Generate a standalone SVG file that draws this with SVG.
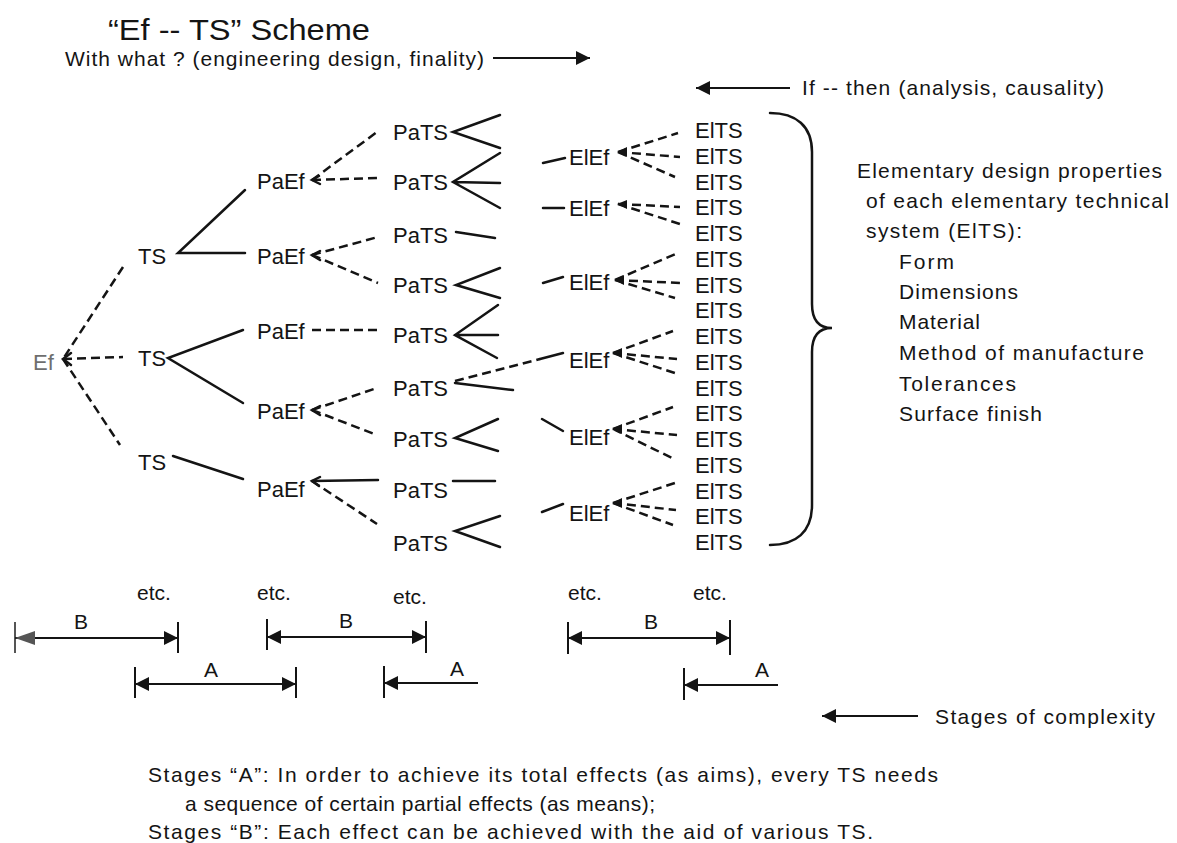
<svg xmlns="http://www.w3.org/2000/svg" width="1177" height="843" viewBox="0 0 1177 843">
<style>
text{font-family:"Liberation Sans",Arial,Helvetica,sans-serif;fill:#141414}
.n{font-size:22px}
.t{font-size:21px}
.s{stroke:#141414;stroke-width:2.5;fill:none;stroke-linecap:round}
.d{stroke:#141414;stroke-width:2.5;fill:none;stroke-dasharray:9 5}
.tk{stroke:#141414;stroke-width:2}
.fa{fill:#141414}
</style>
<defs>
<marker id="ah" viewBox="0 0 10 10" refX="10" refY="5" markerWidth="20" markerHeight="14" markerUnits="userSpaceOnUse" orient="auto-start-reverse"><path d="M0,0 L10,5 L0,10 z" fill="#141414"/></marker>
</defs>

<g id="header">
<text x="108" y="40" style="font-size:29px" textLength="262" lengthAdjust="spacingAndGlyphs">“Ef -- TS” Scheme</text>
<text x="65" y="66" class="t" textLength="419">With what ? (engineering design, finality)</text>
<line x1="493" y1="58" x2="590" y2="58" class="tk" marker-end="url(#ah)"/>
<line x1="790" y1="88" x2="696" y2="88" class="tk" marker-end="url(#ah)"/>
<text x="802" y="95" class="t" textLength="302">If -- then (analysis, causality)</text>
</g>

<g id="connectors">
<path class="d" d="M123 267 L63 359 M63 359 L123 357 M63 359 L120 445"/>
<path class="s" d="M71 353 L63 359 L71 365" stroke-width="2"/>
<path class="s" d="M245 190 L178 253 L245 253"/>
<path class="s" d="M243 330 L168 358 L243 403"/>
<path class="s" d="M173 456 L243 479"/>
<path class="d" d="M312 180 L377 132 M312 180 L377 178"/>
<path class="s" d="M319 176 L312 180 L320 184" stroke-width="2"/>
<path class="d" d="M312 255 L378 237 M312 255 L378 283"/>
<path class="s" d="M320 251 L312 255 L320 260" stroke-width="2"/>
<path class="d" d="M312 330 L378 330"/>
<path class="d" d="M312 410 L377 388 M312 410 L377 435"/>
<path class="s" d="M320 406 L312 410 L320 415" stroke-width="2"/>
<path class="s" d="M312 481 L378 480"/>
<path class="d" d="M312 481 L377 524"/>
<path class="s" d="M320 477 L312 481 L319 486" stroke-width="2"/>
<path class="s" d="M500 115 L453 132 L500 148"/>
<path class="s" d="M500 153 L453 182 L500 208 M453 182 L500 183"/>
<path class="s" d="M456 232 L495 238"/>
<path class="s" d="M500 268 L456 285 L500 298"/>
<path class="s" d="M498 305 L455 335 L497 358 M455 335 L498 335"/>
<path class="s" d="M455 383 L513 390"/>
<path class="d" d="M455 381 L540 359"/>
<path class="s" d="M540 359 L563 353"/>
<path class="s" d="M498 419 L455 438 L498 451"/>
<path class="s" d="M453 481 L495 481"/>
<path class="s" d="M500 516 L455 531 L500 547"/>
<path class="s" d="M543 163 L565 158"/>
<path class="s" d="M543 208 L564 208"/>
<path class="s" d="M543 283 L563 277"/>
<path class="s" d="M542 419 L563 431"/>
<path class="s" d="M542 512 L563 504"/>
<path class="d" d="M618 152 L678 133 M618 152 L680 157 M618 152 L675 177"/>
<path class="fa" d="M617 152 L627 147 L627 157 z"/>
<path class="d" d="M618 204 L680 207 M618 204 L680 224"/>
<path class="fa" d="M617 204 L627 200 L627 209 z"/>
<path class="d" d="M615 280 L678 253 M615 280 L680 283 M615 280 L675 298"/>
<path class="fa" d="M614 280 L624 275 L624 285 z"/>
<path class="d" d="M613 353 L673 331 M613 353 L677 359 M613 353 L675 373"/>
<path class="fa" d="M612 353 L622 348 L622 358 z"/>
<path class="d" d="M613 429 L673 407 M613 429 L677 435 M613 429 L672 458"/>
<path class="fa" d="M612 429 L622 424 L622 434 z"/>
<path class="d" d="M613 503 L675 483 M613 503 L676 510 M613 503 L673 525"/>
<path class="fa" d="M612 503 L622 498 L622 508 z"/>
<path class="s" stroke-width="2" d="M770 113 C796 113 812 126 812 152 L812 304 C812 320 819 328 832 328 C819 328 812 336 812 352 L812 505 C812 532 796 545 770 545"/>
</g>

<g id="node-Ef"><text x="33" y="370" class="n" style="fill:#6e6e6e">Ef</text></g>
<g id="node-TS1"><text x="138" y="264" class="n">TS</text></g>
<g id="node-TS2"><text x="138" y="366" class="n">TS</text></g>
<g id="node-TS3"><text x="138" y="470" class="n">TS</text></g>

<g id="node-PaEf1"><text x="257" y="189" class="n">PaEf</text></g>
<g id="node-PaEf2"><text x="257" y="264" class="n">PaEf</text></g>
<g id="node-PaEf3"><text x="257" y="339" class="n">PaEf</text></g>
<g id="node-PaEf4"><text x="257" y="419" class="n">PaEf</text></g>
<g id="node-PaEf5"><text x="257" y="497" class="n">PaEf</text></g>

<g id="node-PaTS1"><text x="393" y="140" class="n">PaTS</text></g>
<g id="node-PaTS2"><text x="393" y="190" class="n">PaTS</text></g>
<g id="node-PaTS3"><text x="393" y="243" class="n">PaTS</text></g>
<g id="node-PaTS4"><text x="393" y="293" class="n">PaTS</text></g>
<g id="node-PaTS5"><text x="393" y="343" class="n">PaTS</text></g>
<g id="node-PaTS6"><text x="393" y="396" class="n">PaTS</text></g>
<g id="node-PaTS7"><text x="393" y="447" class="n">PaTS</text></g>
<g id="node-PaTS8"><text x="393" y="498" class="n">PaTS</text></g>
<g id="node-PaTS9"><text x="393" y="551" class="n">PaTS</text></g>

<g id="node-ElEf1"><text x="569" y="165" class="n">ElEf</text></g>
<g id="node-ElEf2"><text x="569" y="216" class="n">ElEf</text></g>
<g id="node-ElEf3"><text x="569" y="290" class="n">ElEf</text></g>
<g id="node-ElEf4"><text x="569" y="368" class="n">ElEf</text></g>
<g id="node-ElEf5"><text x="569" y="445" class="n">ElEf</text></g>
<g id="node-ElEf6"><text x="569" y="521" class="n">ElEf</text></g>

<g id="node-ElTS" class="n">
<text x="695" y="138">ElTS</text>
<text x="695" y="163.7">ElTS</text>
<text x="695" y="189.5">ElTS</text>
<text x="695" y="215.2">ElTS</text>
<text x="695" y="241">ElTS</text>
<text x="695" y="266.7">ElTS</text>
<text x="695" y="292.5">ElTS</text>
<text x="695" y="318.2">ElTS</text>
<text x="695" y="344">ElTS</text>
<text x="695" y="369.7">ElTS</text>
<text x="695" y="395.5">ElTS</text>
<text x="695" y="421.2">ElTS</text>
<text x="695" y="447">ElTS</text>
<text x="695" y="472.7">ElTS</text>
<text x="695" y="498.5">ElTS</text>
<text x="695" y="524.2">ElTS</text>
<text x="695" y="550">ElTS</text>
</g>

<g id="properties" class="t">
<text x="857" y="178" textLength="305">Elementary design properties</text>
<text x="866" y="208" textLength="303">of each elementary technical</text>
<text x="866" y="238" textLength="156">system (ElTS):</text>
<text x="899" y="269" textLength="55">Form</text>
<text x="899" y="299" textLength="119">Dimensions</text>
<text x="899" y="329" textLength="81">Material</text>
<text x="899" y="360" textLength="245">Method of manufacture</text>
<text x="899" y="391" textLength="117">Tolerances</text>
<text x="899" y="421" textLength="143">Surface finish</text>
</g>

<g id="stages" class="t">
<text x="137" y="600">etc.</text>
<text x="257" y="600">etc.</text>
<text x="393" y="604">etc.</text>
<text x="568" y="600">etc.</text>
<text x="693" y="600">etc.</text>

<line x1="15" y1="622" x2="15" y2="653" class="tk" style="stroke:#555"/>
<line x1="178" y1="622" x2="178" y2="653" class="tk"/>
<line x1="15" y1="638" x2="178" y2="638" class="tk" marker-end="url(#ah)"/>
<path d="M15 638 L35 631 L35 645 z" fill="#555"/>
<text x="74" y="629">B</text>

<line x1="135" y1="667" x2="135" y2="698" class="tk"/>
<line x1="296" y1="667" x2="296" y2="698" class="tk"/>
<line x1="135" y1="684" x2="296" y2="684" class="tk" marker-start="url(#ah)" marker-end="url(#ah)"/>
<text x="204" y="677">A</text>

<line x1="267" y1="619" x2="267" y2="650" class="tk"/>
<line x1="426" y1="621" x2="426" y2="653" class="tk"/>
<line x1="267" y1="637" x2="426" y2="637" class="tk" marker-start="url(#ah)" marker-end="url(#ah)"/>
<text x="339" y="628">B</text>

<line x1="384" y1="666" x2="384" y2="698" class="tk"/>
<line x1="384" y1="683" x2="478" y2="683" class="tk" marker-start="url(#ah)"/>
<text x="450" y="676">A</text>

<line x1="568" y1="622" x2="568" y2="654" class="tk"/>
<line x1="730" y1="620" x2="730" y2="655" class="tk"/>
<line x1="568" y1="638" x2="730" y2="638" class="tk" marker-start="url(#ah)" marker-end="url(#ah)"/>
<text x="644" y="629">B</text>

<line x1="684" y1="668" x2="684" y2="700" class="tk"/>
<line x1="684" y1="685" x2="778" y2="685" class="tk" marker-start="url(#ah)"/>
<text x="755" y="677">A</text>

<line x1="918" y1="716" x2="822" y2="716" class="tk" marker-end="url(#ah)"/>
<text x="935" y="724" textLength="220">Stages of complexity</text>
</g>

<g id="notes" class="t">
<text x="148" y="782" textLength="790">Stages “A”:  In order to achieve its total effects (as aims), every TS needs</text>
<text x="185" y="811" textLength="470">a sequence of certain partial effects (as means);</text>
<text x="148" y="839" textLength="725">Stages “B”:  Each effect can be achieved with the aid of various TS.</text>
</g>
</svg>
